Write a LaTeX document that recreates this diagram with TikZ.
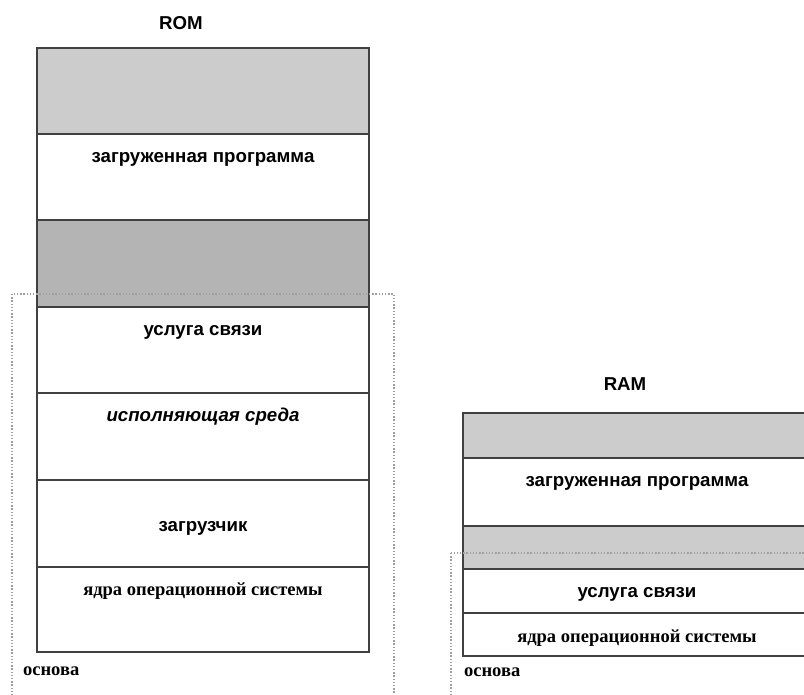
\documentclass[tikz,border=0pt]{standalone}
\usepackage{fontspec}
\setmainfont{Liberation Sans}
\newfontfamily\timesfont{Liberation Serif}

\begin{document}
\begin{tikzpicture}[x=0.75pt,y=-0.75pt,line width=0.9pt,
  lbl/.style={anchor=base,font=\fontsize{14}{17}\selectfont\bfseries},
  slbl/.style={anchor=base,font=\fontsize{13.9}{16}\selectfont\timesfont\bfseries},
  base/.style={draw=g3,dash pattern=on 1.1pt off 1.3pt,line width=0.8pt}]
\definecolor{g1}{HTML}{CCCCCC}
\definecolor{g2}{HTML}{B4B4B4}
\definecolor{g3}{HTML}{A0A0A0}
\definecolor{bd}{HTML}{404040}

\useasboundingbox (0,0) rectangle (804,695);
\clip (0,0) rectangle (804,695);

% ROM
\node[lbl] (romtitle) at (181,30) {ROM};
\draw[draw=bd,fill=g1] (37,48) rectangle (369,134);
\draw[draw=bd,fill=white] (37,134) rectangle (369,220);
\draw[draw=bd,fill=g2] (37,220) rectangle (369,307);
\draw[draw=bd,fill=white] (37,307) rectangle (369,393);
\draw[draw=bd,fill=white] (37,393) rectangle (369,480);
\draw[draw=bd,fill=white] (37,480) rectangle (369,567);
\draw[draw=bd,fill=white] (37,567) rectangle (369,652);

\node[lbl] (romprog) at (203,163) {загруженная программа};
\node[lbl] (romcomm) at (203,336) {услуга связи};
\node[lbl,font=\fontsize{14}{17}\selectfont\bfseries\itshape] (romexec) at (203,422) {исполняющая среда};
\node[lbl] (romload) at (203,532) {загрузчик};
\node[slbl] (romkern) at (203,595) {ядра операционной системы};

\draw[base] (12,294) rectangle (394,720);
\node[slbl,anchor=base west] (rombase) at (18,675) {основа};

% RAM
\node[lbl] (ramtitle) at (625,391) {RAM};
\draw[draw=bd,fill=g1] (463,413) rectangle (812,458);
\draw[draw=bd,fill=white] (463,458) rectangle (812,526);
\draw[draw=bd,fill=g1] (463,526) rectangle (812,569);
\draw[draw=bd,fill=white] (463,569) rectangle (812,613);
\draw[draw=bd,fill=white] (463,613) rectangle (812,656);

\node[lbl] (ramprog) at (637,487) {загруженная программа};
\node[lbl] (ramcomm) at (637,597) {услуга связи};
\node[slbl] (ramkern) at (637,642) {ядра операционной системы};

\draw[base] (451,553) rectangle (830,720);
\node[slbl,anchor=base west] (rambase) at (459,676) {основа};
\end{tikzpicture}
\end{document}
